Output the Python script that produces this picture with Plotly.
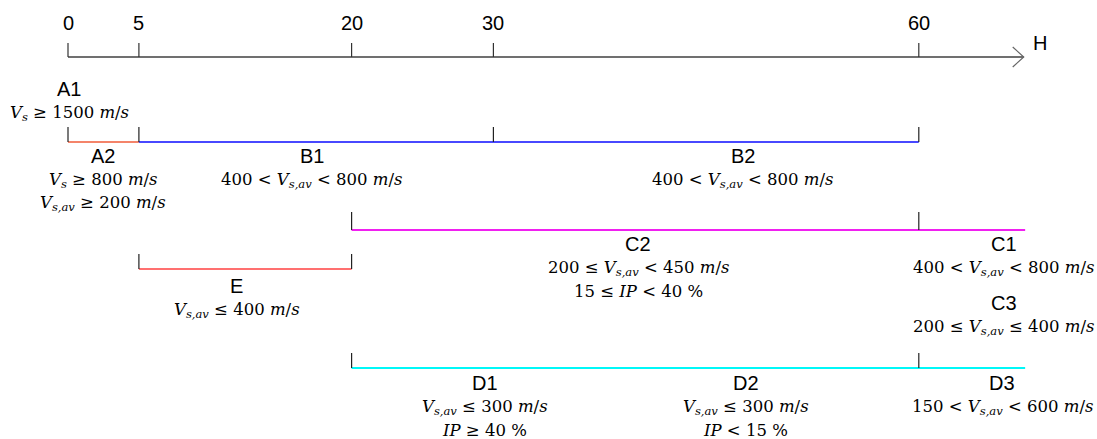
import plotly.graph_objects as go

# ---- data ----
axis_ticks = [0, 5, 20, 30, 60]
axis_end = 67.4
axis_name = "H"

seg_A2 = [0, 5]
seg_B = [5, 60]
seg_B_ticks = [0, 5, 30, 60]
seg_C = [20, 67.5]
seg_C_ticks = [20, 60]
seg_E = [5, 20]
seg_E_ticks = [5, 20]
seg_D = [20, 67.5]
seg_D_ticks = [20, 60]

label_names = ["A1", "A2", "B1", "B2", "C2", "C1", "C3", "E", "D1", "D2", "D3"]
label_x = [0.1, 2.5, 17.2, 47.6, 40.2, 66.0, 66.0, 11.9, 29.4, 47.8, 65.9]
SUB = '<span style="font-size:11.5px;baseline-shift:-0.3em">'
V = f"<i>V</i>{SUB}<i>s</i></span>"
VA = f"<i>V</i>{SUB}<i>s,av</i></span>"
MS = "<i>m</i>/<i>s</i>"
label_formulas = [
    [f"{V} ≥ 1500 {MS}"],
    [f"{V} ≥ 800 {MS}", f"{VA} ≥ 200 {MS}"],
    [f"400 &lt; {VA} &lt; 800 {MS}"],
    [f"400 &lt; {VA} &lt; 800 {MS}"],
    [f"200 ≤ {VA} &lt; 450 {MS}", "15 ≤ <i>IP</i> &lt; 40 %"],
    [f"400 &lt; {VA} &lt; 800 {MS}"],
    [f"200 ≤ {VA} ≤ 400 {MS}"],
    [f"{VA} ≤ 400 {MS}"],
    [f"{VA} ≤ 300 {MS}", "<i>IP</i> ≥ 40 %"],
    [f"{VA} ≤ 300 {MS}", "<i>IP</i> &lt; 15 %"],
    [f"150 &lt; {VA} &lt; 600 {MS}"],
]

# ---- layout (pixel-based vertical placement) ----
W, H = 1097, 439
px_per_unit = 14.18
x0_px = 68
xr = [-x0_px / px_per_unit, (W - x0_px) / px_per_unit]

label_y = [89, 156, 156, 156, 244, 244, 303, 286, 383, 383, 383]
FIRST_GAP = 24
LINE_GAP = 23
SANS = "Liberation Sans, Arial"
SERIF = "DejaVu Serif"

fig = go.Figure()

def line(xs, ys, color, width=1.5):
    fig.add_trace(go.Scatter(x=xs, y=ys, mode="lines",
                             line=dict(color=color, width=width),
                             hoverinfo="skip", showlegend=False))

def ticks(xs, y, length, color="#222222"):
    for t in xs:
        line([t, t], [y, y - length], color, 1.2)

# main axis
AY = 57
line([0, axis_end], [AY, AY], "#404040", 1.4)
ticks(axis_ticks, AY, 14, "#333333")
for t in axis_ticks:
    fig.add_annotation(x=t, y=23, text=str(t), showarrow=False,
                       font=dict(family=SANS, size=20, color="black"))
ah = 11 / px_per_unit
line([axis_end - ah, axis_end, axis_end - ah], [AY - 10, AY, AY + 10], "#666666", 1.2)
fig.add_annotation(x=axis_end + 16 / px_per_unit, y=43, text=axis_name, showarrow=False,
                   xanchor="center",
                   font=dict(family=SANS, size=20, color="black"))

# segments
line(seg_A2, [142, 142], "#f4846a", 2)
line(seg_B, [142, 142], "#4848ff", 2)
ticks(seg_B_ticks, 142, 15)
line(seg_C, [230, 230], "#f020f0", 2)
ticks(seg_C_ticks, 230, 18)
line(seg_E, [269, 269], "#ff7070", 2)
ticks(seg_E_ticks, 269, 15)
line(seg_D, [368, 368], "#00f8f8", 2)
ticks(seg_D_ticks, 368, 15)

# labels
for name, lx, ly, forms in zip(label_names, label_x, label_y, label_formulas):
    fig.add_annotation(x=lx, y=ly, text=name, showarrow=False,
                       font=dict(family=SANS, size=20, color="black"))
    for i, f in enumerate(forms):
        fig.add_annotation(x=lx, y=ly + FIRST_GAP + i * LINE_GAP, text=f, showarrow=False,
                           font=dict(family=SERIF, size=16.5, color="black"))

fig.update_layout(
    width=W, height=H,
    margin=dict(l=0, r=0, t=0, b=0),
    paper_bgcolor="white", plot_bgcolor="white",
    xaxis=dict(range=xr, visible=False, fixedrange=True),
    yaxis=dict(range=[H, 0], visible=False, fixedrange=True),
    showlegend=False,
)

fig.write_html("out.html")
